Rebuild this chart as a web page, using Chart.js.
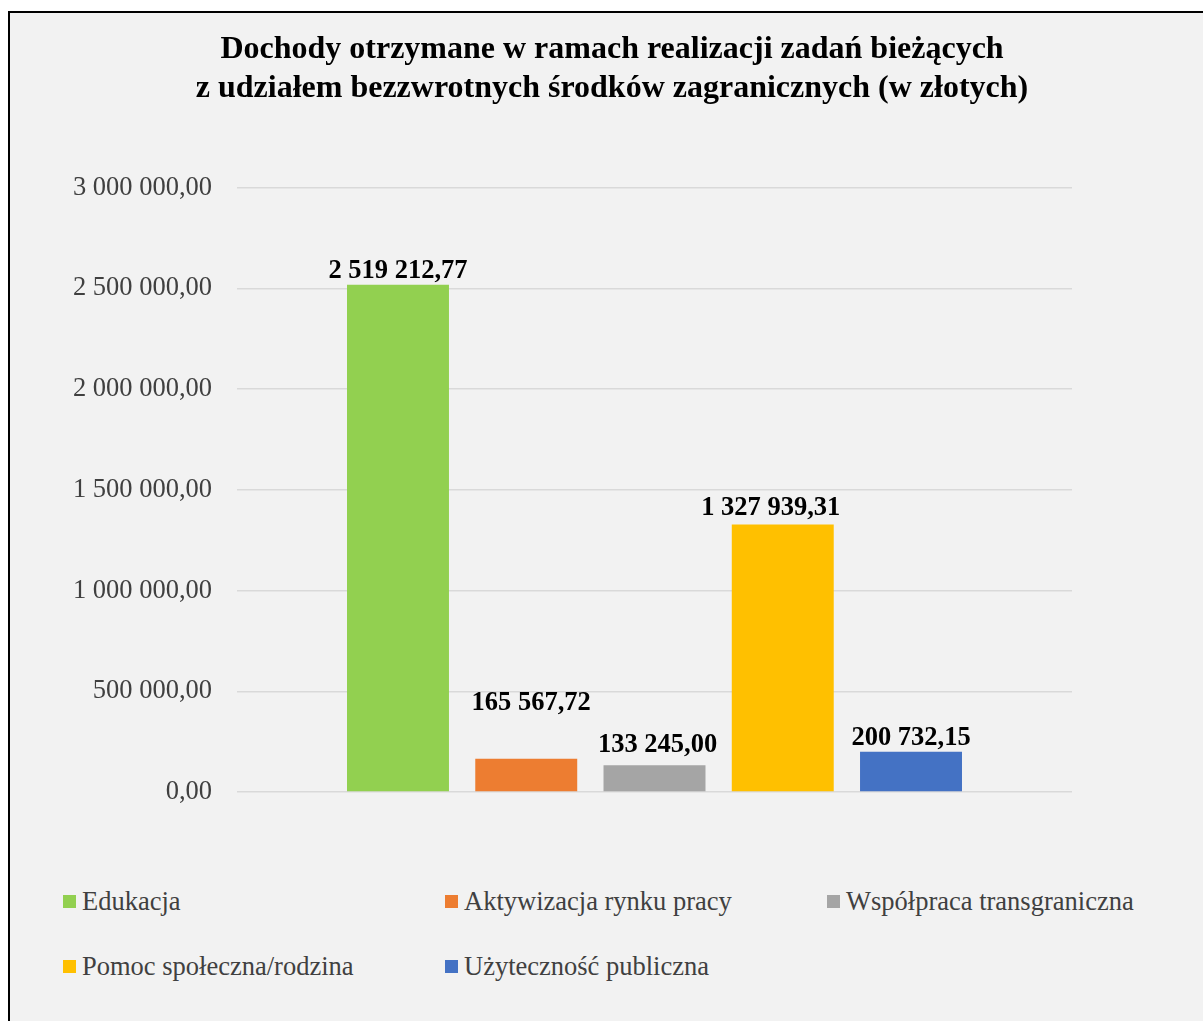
<!DOCTYPE html>
<html lang="pl">
<head>
<meta charset="utf-8">
<title>Dochody otrzymane w ramach realizacji zadań bieżących</title>
<script src="https://cdn.jsdelivr.net/npm/chart.js"></script>
<style>
  html, body { margin: 0; padding: 0; background: #fff; overflow: hidden; }
  body { width: 1203px; height: 1021px; position: relative; }
  .frame {
    position: absolute; left: 8px; top: 11px;
    width: 1220px; height: 1100px;
    border: 2px solid #000; background: #f2f2f2;
  }
  .frame canvas { position: absolute; left: 0; top: 0; }
  .legend-item {
    position: absolute; display: flex; align-items: center; gap: 6px;
    font: 26.5px "Liberation Serif", "Times New Roman", serif; line-height: 1;
    color: #404040; white-space: nowrap;
  }
  .legend-item span.box { width: 13px; height: 13px; display: inline-block; }
</style>
</head>
<body>
<div class="frame" id="frame">
  <canvas id="incomeChart" width="1204" height="820"></canvas>
</div>
<script>
// Source data
const titleLines = [
  "Dochody otrzymane w ramach realizacji zadań bieżących",
  "z udziałem bezzwrotnych środków zagranicznych (w złotych)",
];
const seriesNames = [
  "Edukacja",
  "Aktywizacja rynku pracy",
  "Współpraca transgraniczna",
  "Pomoc społeczna/rodzina",
  "Użyteczność publiczna",
];
const seriesValues = [2519212.77, 165567.72, 133245.0, 1327939.31, 200732.15];
const yTicks = [0, 500000, 1000000, 1500000, 2000000, 2500000, 3000000];

// Styling
const seriesColors = ["#92d050", "#ed7d31", "#a5a5a5", "#ffc000", "#4472c4"];
// label nudges (dx, dy) so the small labels don't crowd each other
const labelNudges = [[0, 0], [5, -42], [3, -6], [-12, -3], [0, 0]];
const legendSlots = [[53, 875], [435, 875], [817, 875], [53, 940], [435, 940]];
const serif = "'Liberation Serif', 'Times New Roman', serif";

// 2519212.77 -> "2 519 212,77"
function formatPl(v) {
  const parts = v.toFixed(2).split(".");
  return parts[0].replace(/\B(?=(\d{3})+(?!\d))/g, " ") + "," + parts[1];
}

// Value labels above each bar
const valueLabels = {
  id: "valueLabels",
  afterDatasetsDraw(chart) {
    const ctx = chart.ctx;
    ctx.save();
    ctx.font = "bold 26.5px " + serif;
    ctx.fillStyle = "#000";
    ctx.textAlign = "center";
    ctx.textBaseline = "alphabetic";
    chart.data.datasets.forEach((ds, i) => {
      const bar = chart.getDatasetMeta(i).data[0];
      const nudge = labelNudges[i];
      ctx.fillText(formatPl(ds.data[0]), bar.x + nudge[0], bar.y - 7 + nudge[1]);
    });
    ctx.restore();
  },
};

const datasets = seriesNames.map((name, i) => ({
  label: name,
  data: [seriesValues[i]],
  backgroundColor: seriesColors[i],
  borderWidth: 0,
  categoryPercentage: 0.768,
  barPercentage: 0.795,
}));

new Chart(document.getElementById("incomeChart"), {
  type: "bar",
  data: { labels: [""], datasets: datasets },
  options: {
    responsive: false,
    animation: false,
    layout: { padding: { left: 0, right: 0, top: 0, bottom: 21 } },
    plugins: {
      legend: { display: false },
      tooltip: { enabled: false },
      title: {
        display: true,
        text: titleLines,
        color: "#000",
        font: { family: serif, size: 32, weight: "bold", lineHeight: 1.2 },
        padding: { top: 18, bottom: 80 },
      },
    },
    scales: {
      x: { display: false },
      y: {
        min: 0,
        max: 3000000,
        afterFit(scale) { scale.width = 227; },
        afterBuildTicks(scale) { scale.ticks = yTicks.map((v) => ({ value: v })); },
        ticks: {
          color: "#404040",
          font: { family: serif, size: 26.5 },
          padding: 25,
          callback: (v) => formatPl(v),
        },
        grid: { color: "#d9d9d9", lineWidth: 1.5, drawTicks: false },
        border: { display: false },
      },
      // empty right-hand axis: keeps space on the right while the title stays centred
      spacer: {
        type: "linear",
        position: "right",
        afterFit(scale) { scale.width = 142; },
        ticks: { display: false },
        grid: { display: false, drawTicks: false },
        border: { display: false },
      },
    },
  },
  plugins: [valueLabels],
});

// Legend laid out in fixed columns
const frame = document.getElementById("frame");
seriesNames.forEach((name, i) => {
  const item = document.createElement("div");
  item.className = "legend-item";
  item.style.left = legendSlots[i][0] + "px";
  item.style.top = legendSlots[i][1] + "px";
  const box = document.createElement("span");
  box.className = "box";
  box.style.background = seriesColors[i];
  const text = document.createElement("span");
  text.textContent = name;
  item.appendChild(box);
  item.appendChild(text);
  frame.appendChild(item);
});
</script>
</body>
</html>
